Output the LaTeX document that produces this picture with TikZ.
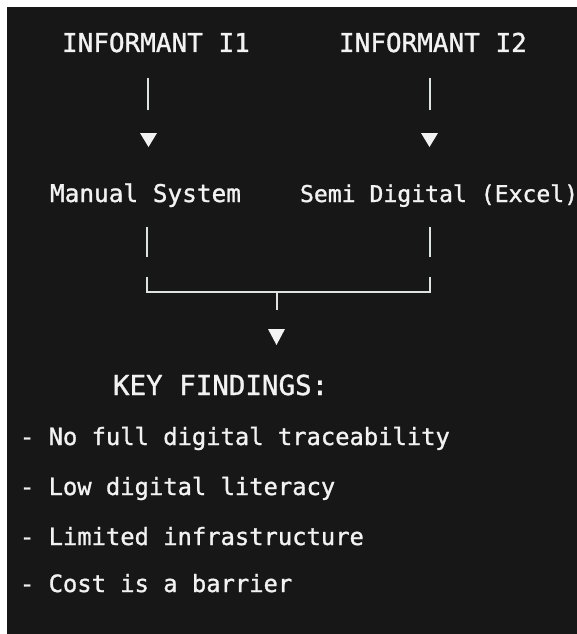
\documentclass[tikz,border=0pt]{standalone}
\usepackage{fontspec}
\newfontfamily\codefont[FakeBold=1.2]{DejaVu Sans Mono}
\definecolor{bgdark}{HTML}{171717}
\definecolor{txtwhite}{HTML}{F2F2F2}
\definecolor{linecol}{HTML}{DCE4E0}
\begin{document}
\begin{tikzpicture}[x=1pt,y=-1pt,
  lbl/.style={anchor=base west,inner sep=0pt,outer sep=0pt,text=txtwhite,font=\codefont},
  head/.style={lbl,font=\codefont\fontsize{26}{26}\selectfont},
  sys/.style={lbl,font=\codefont\fontsize{24.4}{24.4}\selectfont},
  sysb/.style={lbl,font=\codefont\fontsize{23.1}{23.1}\selectfont},
  keyf/.style={lbl,font=\codefont\fontsize{27.5}{27.5}\selectfont},
  bullet/.style={lbl,font=\codefont\fontsize{23.8}{23.8}\selectfont},
  conn/.style={draw=linecol,line width=2pt},
  tip/.style={fill=txtwhite}]
\fill[white] (0,0) rectangle (577,634);
\fill[bgdark] (7,7) rectangle (577,634);
\useasboundingbox (0,0) rectangle (577,634);
% headings
\node[head] (i1) at (62,52) {INFORMANT I1};
\node[head] (i2) at (339,52) {INFORMANT I2};
% systems
\node[sys] (ms) at (50,202) {Manual System};
\node[sysb] (sd) at (300,202) {Semi Digital (Excel)};
% key findings
\node[keyf] (kf) at (113,395) {KEY FINDINGS:};
\node[bullet] (f1) at (20,445) {- No full digital traceability};
\node[bullet] (f2) at (20,495) {- Low digital literacy};
\node[bullet] (f3) at (20,545) {- Limited infrastructure};
\node[bullet] (f4) at (20,592) {- Cost is a barrier};
% coordinates
\coordinate (a1s) at (148,78);  \coordinate (a1e) at (148,110);
\coordinate (a2s) at (430,78);  \coordinate (a2e) at (430,110);
\coordinate (b1s) at (147,227); \coordinate (b1e) at (147,257);
\coordinate (b2s) at (430,227); \coordinate (b2e) at (430,257);
\coordinate (cl) at (147,277);  \coordinate (cr) at (430,277);
\coordinate (jl) at (147,292);  \coordinate (jr) at (430,292);
\coordinate (jm) at (276.5,292); \coordinate (jme) at (276.5,310);
% connectors
\draw[conn] (a1s) -- (a1e);
\draw[conn] (a2s) -- (a2e);
\draw[conn] (b1s) -- (b1e);
\draw[conn] (b2s) -- (b2e);
\draw[conn] (cl) -- (jl) -- (jr) -- (cr);
\draw[conn] (jm) -- (jme);
% arrow tips
\fill[tip] (140,133) -- (157,133) -- (148.5,147) -- cycle;
\fill[tip] (421,133) -- (438,133) -- (429.5,147) -- cycle;
\fill[tip] (268,329) -- (285,329) -- (276.5,345) -- cycle;
\end{tikzpicture}
\end{document}
